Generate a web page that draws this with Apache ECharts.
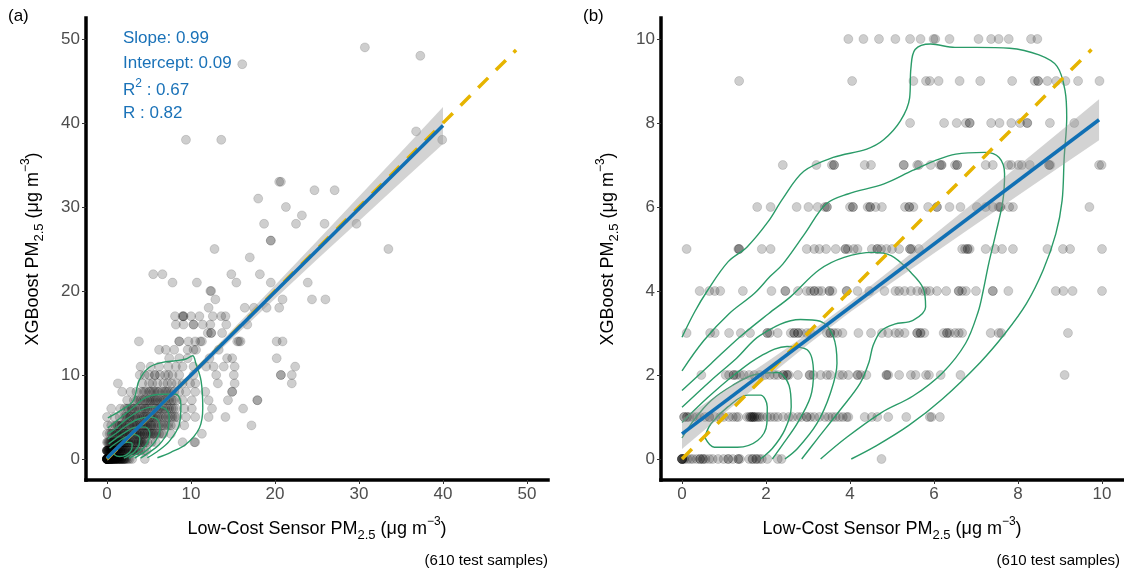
<!DOCTYPE html>
<html>
<head>
<meta charset="utf-8">
<script src="https://cdn.jsdelivr.net/npm/echarts@6/dist/echarts.min.js"></script>
<style>
  html, body { margin: 0; padding: 0; background: #fff; }
  #chart { width: 1124px; height: 573px; }
</style>
</head>
<body>
<div id="chart"></div>
<script>
// ---------- Panel (a): full range ----------
// Each entry: [XGBoost value (integer), list of low-cost sensor values at that level]
const scatterA = [
  [0, [0,0,0,0,0,0,0,0,0,0,0,0,0.1,0.1,0.1,0.2,0.2,0.2,0.3,0.3,0.3,0.4,0.4,0.4,0.5,0.5,0.5,0.6,0.6,0.6,0.7,0.7,0.8,0.8,0.9,0.9,1.0,1.0,1.1,1.1,1.2,1.3,1.3,1.4,1.5,1.5,1.6,1.7,1.7,1.8,1.9,2.0,2.0,2.1,2.2,2.3,2.5,2.7,3.0,4.5]],
  [1, [0,0,0,0,0,0.1,0.1,0.2,0.2,0.3,0.3,0.4,0.4,0.5,0.5,0.6,0.6,0.7,0.8,0.8,0.9,1.0,1.0,1.1,1.2,1.2,1.3,1.4,1.5,1.6,1.6,1.7,1.8,1.9,2.0,2.1,2.2,2.3,2.4,2.6,2.6,2.8,3.0,3.1,3.3,3.4,3.6,3.7,4.0,4.4,4.7]],
  [2, [0,0.1,0.2,0.3,0.4,0.5,0.6,0.7,0.8,0.9,1.0,1.1,1.2,1.3,1.4,1.5,1.6,1.7,1.8,1.9,2.0,2.1,2.2,2.3,2.4,2.5,2.6,2.8,2.9,3.1,3.2,3.4,3.5,3.7,3.8,4.0,4.1,4.2,4.4,4.5,4.8,5.3,5.8,9.0,10.4,10.5]],
  [3, [0,0.3,0.5,0.6,0.8,1.0,1.1,1.2,1.4,1.5,1.7,1.8,2.0,2.1,2.2,2.4,2.5,2.7,2.8,3.0,3.2,3.3,3.5,3.6,3.7,3.9,4.0,4.2,4.4,4.5,4.7,4.8,5.0,5.2,5.4,5.5,5.7,5.9,6.2,6.5,6.7,7.6,11.3]],
  [4, [0.1,0.5,1.0,1.2,1.3,1.5,1.7,1.8,2.0,2.2,2.4,2.6,2.7,3.0,3.2,3.3,3.5,3.6,3.8,4.0,4.2,4.3,4.5,4.6,4.8,5.0,5.2,5.3,5.5,5.7,6.0,6.2,6.5,6.8,7.1,7.3,7.6,8.2,9.2,17.2]],
  [5, [0,0.9,1.5,2.0,2.2,2.3,2.5,2.7,2.8,3.1,3.3,3.4,3.6,3.9,4.1,4.3,4.4,4.6,4.8,5.1,5.2,5.4,5.5,5.7,6.0,6.2,6.5,6.7,7.0,7.3,7.6,7.8,8.1,8.4,9.4,10.5,12.1,14.1]],
  [6, [0.5,1.6,2.1,2.4,2.6,2.9,3.0,3.2,3.5,3.7,4.0,4.2,4.5,4.6,4.8,5.0,5.3,5.6,5.8,6.1,6.2,6.4,6.7,6.9,7.2,7.4,7.7,7.9,8.2,9.2,10.1,12.5,16.2]],
  [7, [2.4,3.2,3.5,3.8,4.0,4.3,4.5,4.8,5.0,5.2,5.4,5.6,5.8,6.0,6.3,6.5,6.7,6.9,7.2,7.4,7.7,7.9,8.3,9.0,10.1,12.1,14.4,17.9,17.9]],
  [8, [1.8,2.8,3.5,4.1,4.4,4.6,5.0,5.2,5.5,5.7,6.0,6.2,6.6,6.9,7.1,7.3,7.7,8.0,8.6,9.4,10.5,11.7,14.9,14.9]],
  [9, [1.3,4.2,5.0,5.4,6.0,6.7,7.2,7.7,8.3,9.0,9.9,10.5,13.2,15.2,22.0]],
  [10, [3.9,4.5,5.0,5.7,5.7,6.3,6.9,7.3,7.8,8.6,10.3,13.0,15.1,20.7,20.7,22.0]],
  [11, [4.0,5.2,6.2,7.3,8.2,9.0,10.3,11.8,12.7,13.9,15.2,22.4]],
  [12, [7.4,8.6,9.6,12.2,14.3,14.9,20.2]],
  [13, [6.2,7.0,8.0,9.6,10.3,10.6,13.3]],
  [14, [3.8,8.6,8.6,9.7,10.5,11.1,11.3,15.5,15.7,15.9,20.2,20.9]],
  [15, [12.0,12.4,12.4,13.7]],
  [16, [8.2,9.1,10.3,10.3,11.4,12.3,14.2,16.7]],
  [17, [8.1,9.0,9.1,9.1,10.0,11.0,12.6,13.6,14.1]],
  [18, [12.1,16.4,17.5,19.0,20.5]],
  [19, [12.9,20.9,24.4,26.0]],
  [20, [12.3,12.4]],
  [21, [7.8,10.7,15.4,19.5,23.9]],
  [22, [5.5,6.6,14.8,18.2]],
  [24, [17.0]],
  [25, [12.8,33.5]],
  [26, [19.5,19.5]],
  [28, [18.7,22.5,25.9,29.7]],
  [29, [23.2]],
  [30, [21.3]],
  [31, [18.0]],
  [32, [24.7,27.1]],
  [33, [20.5,20.7]],
  [38, [9.4,13.6,39.9]],
  [39, [36.8]],
  [47, [16.1]],
  [48, [37.3]],
  [49, [30.7]]
];

// 2-D density contour lines, panel (a)
const contoursA = [
  [[0.1,4.9],[1.5,5.7],[3.1,6.9],[3.8,9.3],[5.0,10.9],[6.6,11.5],[8.2,11.7],[9.4,11.9],[10.2,12.3],[10.6,11.3],[11.2,9.3],[11.4,6.1],[11.0,3.7],[9.4,1.75],[7.6,0.8],[6.0,0.15]],
  [[0.1,3.7],[1.1,4.5],[3.1,6.1],[4.6,7.3],[6.6,7.7],[8.2,7.7],[8.8,6.5],[8.6,4.1],[7.4,2.1],[6.0,0.9],[4.8,0.15]],
  [[0.1,3.0],[1.0,3.6],[2.4,4.8],[4.0,5.8],[5.6,6.2],[6.9,6.0],[7.4,5.0],[7.2,3.2],[6.2,1.7],[4.9,0.7],[4.0,0.1]],
  [[0.1,2.4],[1.0,3.0],[2.2,3.9],[3.6,4.7],[5.0,5.0],[6.1,4.6],[6.3,3.5],[5.8,2.2],[4.8,1.1],[3.9,0.5],[3.3,0.1]],
  [[0.2,1.8],[1.0,2.4],[2.2,3.2],[3.5,3.8],[4.6,3.8],[5.1,3.0],[4.8,1.9],[4.0,1.0],[3.2,0.4],[2.6,0.1]],
  [[0.3,1.3],[1.1,1.9],[2.2,2.6],[3.3,2.9],[3.9,2.5],[3.8,1.6],[3.2,0.8],[2.5,0.35],[2.0,0.1]],
  [[0.8,0.9],[1.5,1.6],[2.4,2.0],[3.0,1.8],[2.9,1.1],[2.3,0.5],[1.5,0.3],[0.9,0.5],[0.8,0.9]]
];

// Linear fit, panel (a)
const statsA = { slope: 0.99, intercept: 0.09, r2: 0.67, r: 0.82 };
const fitRangeA = [0, 40];
// 95% confidence band half-width along the fit: [x, half-width]
const bandA = [[0,0.35],[5,0.3],[10,0.35],[15,0.55],[20,0.8],[25,1.1],[30,1.45],[35,1.8],[40,2.2]];
const identityEndA = 48.7;

// ---------- Panel (b): 0–10 range ----------
const scatterB = [
  [0, [0,0,0,0,0,0.03,0.06,0.13,0.2,0.26,0.35,0.43,0.43,0.5,0.5,0.56,0.65,0.73,0.86,0.99,1.1,1.1,1.21,1.34,1.34,1.38,1.6,1.68,1.68,1.77,1.77,1.84,1.9,2.03,2.28,2.37,4.75]],
  [1, [0.05,0.05,0.12,0.12,0.18,0.26,0.35,0.43,0.55,0.65,0.65,0.78,0.91,0.99,1.12,1.21,1.29,1.34,1.55,1.6,1.64,1.64,1.68,1.68,1.72,1.72,1.77,1.81,1.85,1.92,2.03,2.11,2.2,2.28,2.41,2.54,2.63,2.76,2.84,2.97,2.97,3.06,3.15,3.27,3.4,3.49,3.58,3.66,3.75,3.83,3.92,3.96,4.35,4.52,4.65,4.91,5.34,5.9,5.94,6.14]],
  [2, [0.46,1.04,1.12,1.23,1.23,1.29,1.38,1.47,1.6,1.72,1.85,1.98,2.09,2.2,2.28,2.41,2.41,2.5,2.5,2.54,2.76,3.04,3.04,3.13,3.3,3.45,3.53,3.75,3.83,3.96,4.18,4.18,4.26,4.39,4.87,4.87,4.91,5.17,5.45,5.56,5.81,5.88,6.16,6.63,9.11]],
  [3, [0.11,0.67,0.78,1.12,1.4,1.62,2.03,2.03,2.09,2.28,2.59,2.67,2.67,2.76,2.76,2.84,2.97,3.06,3.45,3.53,3.53,3.62,3.7,3.82,4.2,4.5,4.76,4.91,5.08,5.17,5.3,5.6,5.6,5.68,5.68,5.77,6.23,6.31,6.31,6.37,6.5,6.59,6.67,7.35,7.54,7.6,9.19]],
  [4, [0.42,0.65,0.78,0.91,1.45,2.13,2.46,2.46,2.76,2.97,3.06,3.15,3.15,3.25,3.33,3.51,3.51,3.58,3.92,3.92,4.18,4.46,4.82,5.08,5.17,5.3,5.45,5.6,5.73,5.81,5.9,6.07,6.29,6.59,6.59,6.67,6.76,7.0,7.4,7.4,7.77,8.9,9.08,9.3,10.0]],
  [5, [0.11,1.34,1.36,1.36,1.9,2.11,2.97,3.15,3.27,3.43,3.66,3.89,3.89,3.95,4.09,4.18,4.52,4.65,4.65,4.74,4.87,5.0,5.17,5.43,5.43,5.47,5.64,6.67,6.74,6.8,6.8,6.85,7.23,7.45,7.62,7.88,8.7,9.07,9.24,10.0]],
  [6, [1.79,2.11,2.73,3.01,3.23,3.4,3.45,3.45,4.0,4.07,4.07,4.42,4.48,4.48,4.61,4.76,5.31,5.41,5.41,5.51,5.86,6.07,6.07,6.37,6.63,7.02,7.23,7.4,7.54,7.58,7.58,7.79,7.88,9.7]],
  [7, [2.4,3.2,3.57,3.62,3.62,4.35,4.5,5.28,5.28,5.6,5.64,5.92,6.14,6.18,6.18,6.5,6.55,6.55,7.23,7.4,7.77,7.84,8.01,8.09,8.28,8.74,8.74,8.77,9.93,9.99]],
  [8, [5.43,6.24,6.54,6.76,6.85,6.85,7.36,7.56,7.84,8.05,8.22,8.22,8.76,9.34]],
  [9, [1.36,4.05,5.51,5.81,5.9,6.11,6.61,7.1,7.86,8.4,8.48,8.48,8.7,8.91,9.13,9.43,9.94]],
  [10, [3.96,4.32,4.69,5.08,5.43,5.68,5.99,6.03,6.37,7.06,7.36,7.54,7.78,8.31,8.46]]
];

const contoursB = [
  [[0,2.9],[0.3,3.5],[0.6,4.0],[1.1,4.7],[1.55,5.05],[2.05,5.65],[2.4,6.2],[2.9,6.85],[3.6,7.18],[4.4,7.38],[4.8,7.6],[5.2,8.05],[5.42,8.6],[5.45,9.3],[5.55,9.75],[5.92,9.88],[6.5,9.8],[7.0,9.8],[7.8,9.78],[8.5,9.62],[8.93,9.35],[9.12,8.77],[9.16,8.13],[9.1,7.18],[9.05,6.15],[8.9,5.36],[8.6,4.5],[8.2,3.7],[7.7,3.0],[7.1,2.3],[6.2,1.43],[5.4,0.8],[4.6,0.3],[4.03,0]],
  [[0,2.1],[0.52,2.82],[1.12,3.46],[1.72,3.94],[2.1,4.35],[2.4,4.64],[2.92,5.36],[3.43,6.07],[3.95,6.31],[4.81,6.55],[5.49,6.87],[6.01,7.1],[6.52,7.26],[7.21,7.3],[7.55,7.18],[7.68,6.79],[7.64,6.15],[7.47,5.36],[7.3,4.64],[7.17,4.0],[7.05,3.5],[6.75,2.75],[6.2,2.05],[5.5,1.5],[4.74,1.1],[3.9,0.5],[3.3,0]],
  [[0,1.63],[0.69,2.27],[1.37,2.9],[2.06,3.46],[2.58,3.86],[3.26,4.5],[3.86,4.8],[4.55,4.92],[4.98,4.84],[5.41,4.48],[5.75,4.05],[5.8,3.62],[5.5,3.3],[5.06,3.21],[4.74,3.05],[4.55,2.7],[4.45,2.3],[4.24,1.8],[3.76,1.16],[3.2,0.45],[2.85,0]],
  [[0,1.23],[0.69,1.87],[1.3,2.4],[1.87,2.95],[2.82,3.32],[3.29,3.28],[3.6,2.92],[3.69,2.28],[3.53,1.56],[3.21,0.84],[2.75,0.25],[2.45,0]],
  [[0,0.87],[0.6,1.45],[1.24,2.0],[1.87,2.45],[2.5,2.68],[2.98,2.6],[3.13,2.04],[3.06,1.48],[2.74,0.84],[2.4,0.35],[2.15,0]],
  [[0,0.5],[0.3,0.95],[0.7,1.4],[1.2,1.75],[1.7,2.0],[2.27,2.06],[2.55,1.75],[2.6,1.24],[2.45,0.7],[2.15,0.25],[1.87,0]],
  [[0.54,0.52],[0.69,0.84],[1.09,1.24],[1.56,1.52],[1.87,1.52],[2.03,1.24],[2.02,0.84],[1.8,0.44],[1.32,0.28],[0.77,0.28],[0.54,0.52]]
];

const fitB = { slope: 0.753, intercept: 0.6 };
const fitRangeB = [0, 9.93];
const bandB = [[0,0.36],[1,0.27],[2,0.19],[3,0.13],[4,0.12],[5,0.16],[6,0.22],[7,0.28],[8,0.35],[9,0.42],[9.93,0.49]];
const identityEndB = 9.75;

// Axis tick values
const ticksA = [0, 10, 20, 30, 40, 50];
const ticksB = [0, 2, 4, 6, 8, 10];

// ---------- helpers ----------
const FONT = "'Liberation Sans', Arial, sans-serif";
const GREEN = '#2a9b68';
const BLUE = '#1170b4';
const GOLD = '#e6b400';

function rowsToPoints(rows) {
  const pts = [];
  rows.forEach(([y, xs]) => xs.forEach(x => pts.push([x, y])));
  return pts;
}

function fitLine(fit, range) {
  return range.map(x => [x, fit.intercept + fit.slope * x]);
}

function bandSeries(fit, band, idx) {
  return {
    type: 'custom',
    xAxisIndex: idx, yAxisIndex: idx,
    z: 3, silent: true,
    data: [0],
    renderItem: function (params, api) {
      const upper = band.map(([x, h]) => api.coord([x, fit.intercept + fit.slope * x + h]));
      const lower = band.map(([x, h]) => api.coord([x, fit.intercept + fit.slope * x - h])).reverse();
      return { type: 'polygon', shape: { points: upper.concat(lower) }, style: { fill: 'rgba(150,150,150,0.42)' } };
    }
  };
}

const sub = { fontSize: 13, fontFamily: FONT, color: '#000', verticalAlign: 'bottom', lineHeight: 17 };
const sup = { fontSize: 12, fontFamily: FONT, color: '#000', verticalAlign: 'top', lineHeight: 12 };
const base = { fontSize: 18, fontFamily: FONT, color: '#000', lineHeight: 26 };
const titleRich = { b: base, sub: sub, sup: sup };
const xTitle = '{b|Low-Cost Sensor PM}{sub|2.5}{b| (μg m}{sup|−3}{b|)}';
const yTitle = '{b|XGBoost PM}{sub|2.5}{b| (μg m}{sup|−3}{b|)}';

function makeAxis(idx, min, max, ticks, isX) {
  return {
    type: 'value', gridIndex: idx, min: min, max: max,
    splitLine: { show: false },
    axisLine: { show: true, onZero: false, lineStyle: { color: '#000', width: 3.5, cap: 'square' } },
    axisTick: { show: true, length: 4, customValues: ticks, lineStyle: { color: '#333', width: 1 } },
    axisLabel: { customValues: ticks, color: '#4d4d4d', fontSize: 17, fontFamily: FONT, margin: 6 },
    name: isX ? xTitle : yTitle,
    nameLocation: 'middle',
    nameGap: isX ? 36 : 40,
    nameRotate: isX ? 0 : 90,
    nameTextStyle: { rich: titleRich }
  };
}

function contourSeries(list, idx) {
  return list.map(c => ({
    type: 'line', xAxisIndex: idx, yAxisIndex: idx, data: c,
    smooth: 0.35, symbol: 'none', silent: true, z: 2,
    lineStyle: { color: GREEN, width: 1.4 }
  }));
}

function scatterSeries(rows, idx) {
  return {
    type: 'scatter', xAxisIndex: idx, yAxisIndex: idx, data: rowsToPoints(rows),
    symbolSize: 9, silent: true, z: 1,
    itemStyle: { color: 'rgba(0,0,0,0.24)', borderColor: 'rgba(0,0,0,0.16)', borderWidth: 1 }
  };
}

function identitySeries(end, idx) {
  return {
    type: 'line', xAxisIndex: idx, yAxisIndex: idx, data: [[0, 0], [end, end]],
    symbol: 'none', silent: true, z: 4,
    lineStyle: { color: GOLD, width: 3.5, type: [14, 11], cap: 'butt' }
  };
}

function fitSeries(fit, range, idx) {
  return {
    type: 'line', xAxisIndex: idx, yAxisIndex: idx, data: fitLine(fit, range),
    symbol: 'none', silent: true, z: 5,
    lineStyle: { color: BLUE, width: 3.5 }
  };
}

const annColor = '#1a72b8';

const chart = echarts.init(document.getElementById('chart'), null, { renderer: 'canvas' });
chart.setOption({
  animation: false,
  backgroundColor: '#fff',
  grid: [
    { left: 86, top: 18, width: 462, height: 462 },
    { left: 661, top: 18, width: 462, height: 462 }
  ],
  xAxis: [makeAxis(0, -2.5, 52.5, ticksA, true), makeAxis(1, -0.5, 10.5, ticksB, true)],
  yAxis: [makeAxis(0, -2.5, 52.5, ticksA, false), makeAxis(1, -0.5, 10.5, ticksB, false)],
  series: [
    scatterSeries(scatterA, 0),
    ...contourSeries(contoursA, 0),
    bandSeries(statsA, bandA, 0),
    identitySeries(identityEndA, 0),
    fitSeries(statsA, fitRangeA, 0),
    scatterSeries(scatterB, 1),
    ...contourSeries(contoursB, 1),
    bandSeries(fitB, bandB, 1),
    identitySeries(identityEndB, 1),
    fitSeries(fitB, fitRangeB, 1)
  ],
  graphic: [
    { type: 'text', left: 8, top: 8, style: { text: '(a)', fontSize: 17, fontFamily: FONT, fill: '#000' } },
    { type: 'text', left: 583, top: 8, style: { text: '(b)', fontSize: 17, fontFamily: FONT, fill: '#000' } },
    { type: 'text', left: 123, top: 30, z: 10, style: { text: 'Slope: ' + statsA.slope.toFixed(2), font: '17px ' + FONT, fill: annColor } },
    { type: 'text', left: 123, top: 55, z: 10, style: { text: 'Intercept: ' + statsA.intercept.toFixed(2), font: '17px ' + FONT, fill: annColor } },
    { type: 'text', left: 123, top: 78, z: 10, style: {
        text: '{t|R}{s|2}{t| : ' + statsA.r2.toFixed(2) + '}',
        fill: annColor,
        rich: { t: { fontSize: 17, fontFamily: FONT, fill: annColor, lineHeight: 24 },
                s: { fontSize: 12, fontFamily: FONT, fill: annColor, verticalAlign: 'top', lineHeight: 12 } } } },
    { type: 'text', left: 123, top: 105, z: 10, style: { text: 'R : ' + statsA.r.toFixed(2), font: '17px ' + FONT, fill: annColor } },
    { type: 'text', right: 576, top: 553, style: { text: '(610 test samples)', font: '15px ' + FONT, fill: '#000' } },
    { type: 'text', right: 4, top: 553, style: { text: '(610 test samples)', font: '15px ' + FONT, fill: '#000' } }
  ]
});
</script>
</body>
</html>
